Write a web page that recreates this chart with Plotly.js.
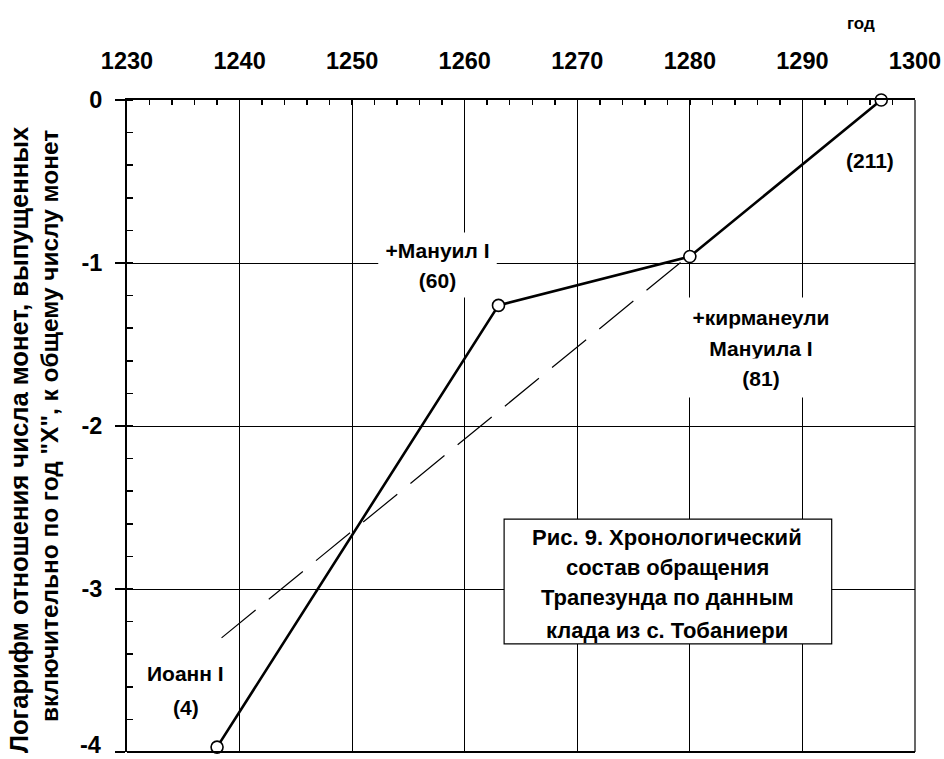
<!DOCTYPE html>
<html>
<head>
<meta charset="utf-8">
<script src="https://cdn.plot.ly/plotly-3.0.1.min.js"></script>
<style>
  html, body { margin: 0; padding: 0; background: #fff; }
  #chart { width: 944px; height: 759px; }
</style>
</head>
<body>
<div id="chart"></div>
<script>
// ---- data ----
const years = [1238, 1263, 1280, 1297];
const logShare = [-3.97, -1.26, -0.96, 0];
const trendYears = [1238.4, 1280];
const trendLog = [-3.30, -0.95];
const xTickVals = [1230, 1240, 1250, 1260, 1270, 1280, 1290, 1300];
const yTickVals = [0, -1, -2, -3, -4];
const yTickText = ['0', '-1', '-2', '-3', ''];   // "-4" is drawn just above the bottom edge
const bottomTickText = '-4';
const pointLabels = [
  ['Иоанн I', '(4)'],
  ['+Мануил I', '(60)'],
  ['+кирманеули', 'Мануила I', '(81)'],
  ['(211)']
];
const captionLines = ['Рис. 9. Хронологический', 'состав обращения', 'Трапезунда по данным', 'клада из с. Тобаниери'];
const yTitleLines = ['Логарифм отношения числа монет, выпущенных', 'включительно по год "X", к общему числу монет'];
const xTitle = 'год';

const FAM = 'Liberation Sans, Arial, Helvetica, sans-serif';
const txt = (size) => ({family: FAM, size: size, color: '#000', weight: 'bold'});

const traces = [
  {
    x: trendYears, y: trendLog, type: 'scatter', mode: 'lines',
    line: {color: '#000', width: 1.2, dash: '44px,17px'},
    hoverinfo: 'skip', showlegend: false
  },
  {
    x: years, y: logShare, type: 'scatter', mode: 'lines+markers',
    line: {color: '#000', width: 2.6},
    marker: {symbol: 'circle', size: 12, color: '#fff', line: {color: '#000', width: 1.6}},
    cliponaxis: false, showlegend: false
  }
];

const annotations = [];
function addLine(text, x, y, opts, size) {
  annotations.push(Object.assign({
    text: text, x: x, y: y, xref: 'x', yref: 'y',
    showarrow: false, font: txt(size || 21), xanchor: 'center', yanchor: 'middle'
  }, opts || {}));
}
// Иоанн I
addLine(pointLabels[0][0], 1235.2, -3.52);
addLine(pointLabels[0][1], 1235.2, -3.73);
// Мануил I (white background hides the grid line)
addLine(pointLabels[1][0], 1257.6, -0.92, {bgcolor: '#fff', width: 113, height: 30, borderpad: 2});
addLine(pointLabels[1][1], 1257.6, -1.104, {bgcolor: '#fff', width: 113, height: 30, borderpad: 2});
// кирманеули Мануила I
addLine(pointLabels[2][0], 1286.3, -1.331, {bgcolor: '#fff', width: 150, height: 34, borderpad: 2});
addLine(pointLabels[2][1], 1286.3, -1.521, {bgcolor: '#fff', width: 150, height: 34, borderpad: 2});
addLine(pointLabels[2][2], 1286.3, -1.706, {bgcolor: '#fff', width: 150, height: 34, borderpad: 2});
// 211
addLine(pointLabels[3][0], 1296.0, -0.37);
// caption box lines
const capY = [-2.681, -2.865, -3.055, -3.252];
captionLines.forEach((t, i) => addLine(t, 1278.0, capY[i], null, 22));
// x axis title
annotations.push({text: xTitle, xref: 'x', yref: 'paper', x: 1295.2, y: 1.1166,
  showarrow: false, font: txt(17), xanchor: 'center', yanchor: 'middle'});
// y axis title (two rotated lines)
annotations.push({text: yTitleLines[0], xref: 'paper', yref: 'paper', x: -0.137, y: 0.4785,
  textangle: -90, showarrow: false, font: txt(25.6), xanchor: 'center', yanchor: 'middle'});
annotations.push({text: yTitleLines[1], xref: 'paper', yref: 'paper', x: -0.099, y: 0.50,
  textangle: -90, showarrow: false, font: txt(24.4), xanchor: 'center', yanchor: 'middle'});
// bottom tick label
annotations.push({text: bottomTickText, xref: 'paper', yref: 'paper', x: -0.030, y: 0.0107,
  showarrow: false, font: txt(23.5), xanchor: 'right', yanchor: 'middle'});

const layout = {
  width: 944, height: 759,
  margin: {l: 127, r: 29, t: 100, b: 7, pad: 0},
  paper_bgcolor: '#fff', plot_bgcolor: '#fff',
  showlegend: false,
  xaxis: {
    side: 'top', range: [1230, 1300], tickvals: xTickVals,
    showgrid: true, gridcolor: '#000', gridwidth: 1,
    showline: true, linecolor: '#000', linewidth: 2,
    ticks: 'inside', ticklen: 5, tickwidth: 1.5, tickcolor: '#000',
    minor: {ticks: 'inside', dtick: 2, tick0: 1230, ticklen: 5, tickwidth: 1.5, tickcolor: '#000', showgrid: false},
    tickfont: txt(23.5), ticklabelstandoff: 20, ticklabeloverflow: 'allow',
    zeroline: false, fixedrange: true
  },
  yaxis: {
    range: [-4, 0], tickvals: yTickVals, ticktext: yTickText,
    showgrid: true, gridcolor: '#000', gridwidth: 1,
    showline: true, linecolor: '#000', linewidth: 2,
    ticks: 'outside', ticklen: 10, tickwidth: 1.5, tickcolor: '#000',
    minor: {ticks: 'inside', dtick: 0.2, tick0: 0, ticklen: 6, tickwidth: 1.5, tickcolor: '#000', showgrid: false},
    tickfont: txt(23.5), ticklabelstandoff: 8, ticklabeloverflow: 'allow',
    zeroline: false, fixedrange: true
  },
  shapes: [
    {type: 'line', xref: 'paper', yref: 'paper', x0: 0, x1: 1, y0: 0, y1: 0, line: {color: '#000', width: 2}, layer: 'above'},
    {type: 'line', xref: 'paper', yref: 'paper', x0: 1, x1: 1, y0: 0, y1: 1, line: {color: '#000', width: 1.2}, layer: 'above'},
    {type: 'rect', xref: 'x', yref: 'y', x0: 1263.5, x1: 1292.6, y0: -2.571, y1: -3.337,
      fillcolor: '#fff', line: {color: '#000', width: 1.2}, layer: 'above'}
  ],
  annotations: annotations
};

Plotly.newPlot('chart', traces, layout, {staticPlot: true, displayModeBar: false});
</script>
</body>
</html>
